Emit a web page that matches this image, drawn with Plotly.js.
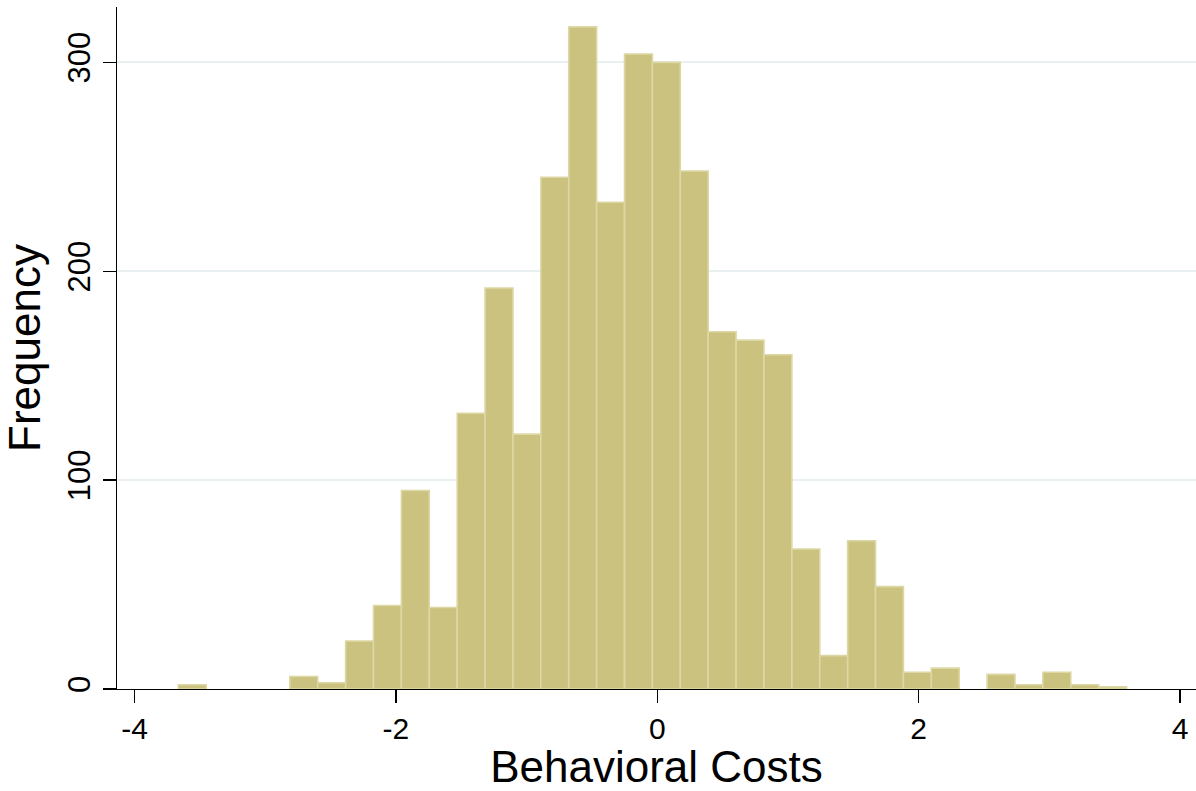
<!DOCTYPE html>
<html>
<head>
<meta charset="utf-8">
<script src="https://cdn.plot.ly/plotly-3.0.1.min.js"></script>
<style>
html,body{margin:0;padding:0;background:#fff;}
#chart{width:1196px;height:791px;}
</style>
</head>
<body>
<div id="chart"></div>
<script>
// Histogram of Behavioral Costs
const binStart = -3.665;
const binWidth = 0.2134;
const counts = [2,0,0,0,6,3,23,40,95,39,132,192,122,245,317,233,304,300,248,171,167,160,67,16,71,49,8,10,0,7,2,8,2,1];
const xTicks = [-4,-2,0,2,4];
const yTicks = [0,100,200,300];
const xLabel = "Behavioral Costs";
const yLabel = "Frequency";

// keep only non-empty bins (empty bins draw nothing)
const xs = [], ys = [];
counts.forEach((c,i)=>{ if (c > 0) { xs.push(binStart + (i+0.5)*binWidth); ys.push(c); } });

const trace = {
  type: 'bar',
  x: xs,
  y: ys,
  width: xs.map(()=>binWidth),
  marker: {color:'#CAC27E', line:{color:'#DDD7A5', width:1.6}},
  hoverinfo: 'x+y'
};

const font = "'Liberation Sans', Arial, Helvetica, sans-serif";
const layout = {
  width: 1196, height: 791,
  margin: {l:117, r:0, t:7, b:102},
  paper_bgcolor: '#ffffff', plot_bgcolor: '#ffffff',
  showlegend: false,
  bargap: 0,
  font: {family: font, color:'#000'},
  xaxis: {
    range: [-4.134, 4.122],
    tickvals: xTicks, ticktext: xTicks.map(String),
    ticks: 'outside', ticklen: 13, tickwidth: 1.3, tickcolor: '#000',
    showline: true, linecolor: '#000', linewidth: 1.3,
    showgrid: false, zeroline: false,
    tickfont: {size: 30, family: font, color:'#000'},
    title: {text: xLabel, font: {size: 44, family: font, color:'#000'}, standoff: 10}
  },
  yaxis: {
    range: [0, 326.5],
    tickvals: yTicks, ticktext: yTicks.map(String),
    tickangle: -90,
    ticks: 'outside', ticklen: 13, tickwidth: 1.3, tickcolor: '#000',
    showline: true, linecolor: '#000', linewidth: 1.3,
    showgrid: true, gridcolor: '#E8F0F2', gridwidth: 2,
    zeroline: false,
    tickfont: {size: 31, family: font, color:'#000'},
    title: {text: yLabel, font: {size: 44, family: font, color:'#000'}, standoff: 10}
  }
};

Plotly.newPlot('chart', [trace], layout, {displayModeBar:false, staticPlot:true});
</script>
</body>
</html>
